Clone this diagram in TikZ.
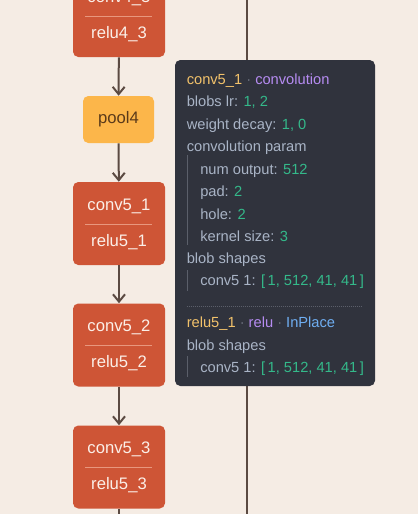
\documentclass[tikz,border=0pt]{standalone}
\usepackage{fontspec}
\setmainfont{Liberation Sans}
\usetikzlibrary{arrows.meta,positioning,calc}

\definecolor{bgcol}{HTML}{F5ECE4}
\definecolor{layerred}{HTML}{CE5536}
\definecolor{divcol}{HTML}{E8977E}
\definecolor{poolcol}{HTML}{FCB64A}
\definecolor{pooltext}{HTML}{5A3A1A}
\definecolor{boxtext}{HTML}{FBEFE8}
\definecolor{linecol}{HTML}{5B4A42}
\definecolor{tipbg}{HTML}{30333D}
\definecolor{keycol}{HTML}{A9B4C6}
\definecolor{valcol}{HTML}{34B98A}
\definecolor{namecol}{HTML}{F2C26B}
\definecolor{typecol}{HTML}{B68CF2}
\definecolor{inplcol}{HTML}{6FAEF2}
\definecolor{dotcol}{HTML}{6E7380}
\definecolor{guidecol}{HTML}{5B5F6A}

\begin{document}
\begin{tikzpicture}[x=0.75pt,y=-0.75pt,
    layer/.style={fill=layerred, rounded corners=4pt, minimum width=69pt,
      minimum height=62.25pt, inner sep=0pt},
    poolbox/.style={fill=poolcol, rounded corners=4pt, minimum width=53.25pt,
      minimum height=35.25pt, inner sep=0pt, text=pooltext, font=\fontsize{12.5}{14}\selectfont},
    ltext/.style={text=boxtext, font=\fontsize{12.5}{14}\selectfont, inner sep=0pt},
    divider/.style={draw=divcol, line width=0.6pt},
    flow/.style={draw=linecol, line width=1.5pt,
      -{Straight Barb[length=5.5pt,width=9pt,line width=1.5pt]}},
    wire/.style={draw=linecol, line width=1.5pt},
    tiptext/.style={anchor=base west, inner sep=0pt, text=keycol,
      font=\fontsize{11}{13}\selectfont},
    guide/.style={draw=guidecol, line width=0.75pt}]

    \useasboundingbox (0,0) rectangle (418,514);
    \clip (0,0) rectangle (418,514);
    \fill[bgcol] (0,0) rectangle (418,514);

    % right hand branch
    \coordinate (rtop) at (247,0);
    \coordinate (rbot) at (247,514);
    \draw[wire] (rtop) -- (rbot);

    % conv4_3
    \node[layer] (conv43) at (119,15.5) {};
    \node[ltext] (conv43a) at (119,-2) {conv4\_3};
    \draw[divider] (85,16) -- (152,16);
    \node[ltext] (conv43b) at (119,34) {relu4\_3};

    % pool4
    \node[poolbox] (pool4) at (118.5,119.5) {pool4};

    % conv5_1
    \node[layer] (conv51) at (119,223.5) {};
    \node[ltext] (conv51a) at (119,206) {conv5\_1};
    \draw[divider] (85,224) -- (152,224);
    \node[ltext] (conv51b) at (119,242) {relu5\_1};

    % conv5_2
    \node[layer] (conv52) at (119,345) {};
    \node[ltext] (conv52a) at (119,327.5) {conv5\_2};
    \draw[divider] (85,345.5) -- (152,345.5);
    \node[ltext] (conv52b) at (119,363.5) {relu5\_2};

    % conv5_3
    \node[layer] (conv53) at (119,467) {};
    \node[ltext] (conv53a) at (119,449.5) {conv5\_3};
    \draw[divider] (85,467.5) -- (152,467.5);
    \node[ltext] (conv53b) at (119,485.5) {relu5\_3};
    \coordinate (tail) at (119,514);

    % flow
    \draw[flow] (conv43) -- (pool4);
    \draw[flow] (pool4) -- (conv51);
    \draw[flow] (conv51) -- (conv52);
    \draw[flow] (conv52) -- (conv53);
    \draw[wire] (conv53) -- (tail);

    % tooltip
    \fill[tipbg, rounded corners=4pt] (175,60) rectangle (375,386);
    \node[tiptext] (t1) at (186.5,84) {\color{namecol}conv5\_1 \color{dotcol}· \color{typecol}convolution};
    \node[tiptext] (t2) at (186.5,106.5) {blobs lr: \color{valcol}1, 2};
    \node[tiptext] (t3) at (186.5,129) {weight decay: \color{valcol}1, 0};
    \node[tiptext] (t4) at (186.5,151.5) {convolution param};
    \node[tiptext] (t5) at (200,174) {num output: \color{valcol}512};
    \node[tiptext] (t6) at (200,196.5) {pad: \color{valcol}2};
    \node[tiptext] (t7) at (200,219) {hole: \color{valcol}2};
    \node[tiptext] (t8) at (200,241) {kernel size: \color{valcol}3};
    \node[tiptext] (t9) at (186.5,263.5) {blob shapes};
    \node[tiptext] (t10) at (200,285.5) {conv5 1: \color{valcol}[\,1, 512, 41, 41\,]};
    \draw[guidecol, line width=0.75pt, dash pattern=on 0.75pt off 0.75pt] (186.5,306) -- (362,306);
    \node[tiptext] (t11) at (186.5,327.5) {\color{namecol}relu5\_1 \color{dotcol}· \color{typecol}relu \color{dotcol}· \color{inplcol}InPlace};
    \node[tiptext] (t12) at (186.5,350) {blob shapes};
    \node[tiptext] (t13) at (200,372) {conv5 1: \color{valcol}[\,1, 512, 41, 41\,]};
    \draw[guide] (187,155) -- (187,245);
    \draw[guide] (187,270) -- (187,291);
    \draw[guide] (187,356) -- (187,377);
\end{tikzpicture}
\end{document}
